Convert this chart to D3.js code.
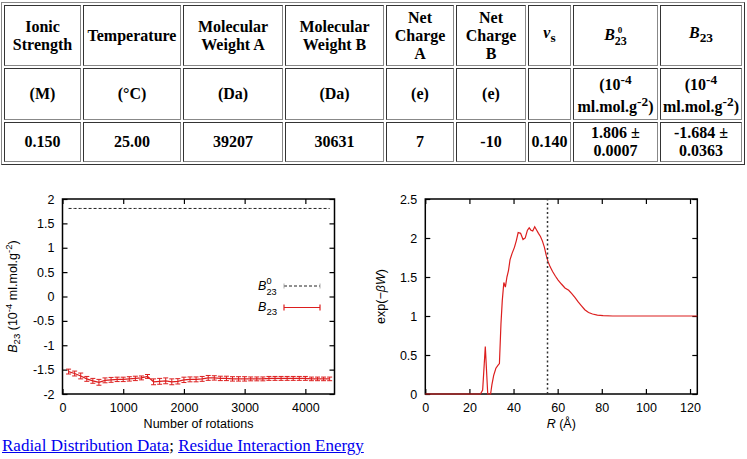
<!DOCTYPE html>
<html><head><meta charset="utf-8">
<script src="https://cdn.jsdelivr.net/npm/d3@7"></script>
<style>
body{margin:0;width:747px;height:459px;position:relative;overflow:hidden;background:#fff;}
#tbl{position:absolute;left:1px;top:2px;}
table.info{border:1px outset #888;border-spacing:2px;table-layout:fixed;font-family:"Liberation Serif","Times New Roman",serif;font-size:16px;font-weight:bold;color:#000;}
table.info td{border:1px inset #888;padding:1px;text-align:center;vertical-align:middle;box-sizing:border-box;}
.stk{display:inline-flex;flex-direction:column;vertical-align:7px;text-align:left;}
.stk .s0{font-size:9px;line-height:10px;padding-left:3px;}
.stk .s23{font-size:12px;line-height:12px;}
svg{position:absolute;left:0;top:0;}
#links{position:absolute;left:2px;top:437px;font-family:"Liberation Serif","Times New Roman",serif;font-size:17px;line-height:18px;white-space:nowrap;}
#links a{color:#0000ee;text-decoration:underline;}
</style></head><body>
<div id="tbl"></div>
<div id="links"></div>
<script>
// ---------- table data ----------
const tableHeaders = ["Ionic<br>Strength","Temperature","Molecular<br>Weight A","Molecular<br>Weight B","Net<br>Charge<br>A","Net<br>Charge<br>B","<i>ν</i><sub>s</sub>","<i>B</i><span class='stk'><span class='s0'>0</span><span class='s23'>23</span></span>","<i>B</i><sub>23</sub>"];
const tableUnits = ["(M)","(°C)","(Da)","(Da)","(e)","(e)","","(10<sup>-4</sup><br>ml.mol.g<sup>-2</sup>)","(10<sup>-4</sup><br>ml.mol.g<sup>-2</sup>)"];
const tableValues = ["0.150","25.00","39207","30631","7","-10","0.140","1.806 ±<br>0.0007","-1.684 ±<br>0.0363"];

// ---------- left chart data ----------
const rotations = [100,200,300,400,500,600,700,800,900,1000,1100,1200,1300,1400,1500,1600,1700,1800,1900,2000,2100,2200,2300,2400,2500,2600,2700,2800,2900,3000,3100,3200,3300,3400,3500,3600,3700,3800,3900,4000,4100,4200,4300,4400];
const b23 = [-1.54,-1.58,-1.63,-1.69,-1.73,-1.76,-1.72,-1.71,-1.70,-1.70,-1.69,-1.68,-1.67,-1.64,-1.75,-1.74,-1.73,-1.75,-1.74,-1.71,-1.70,-1.70,-1.69,-1.67,-1.67,-1.68,-1.68,-1.69,-1.69,-1.69,-1.69,-1.69,-1.69,-1.68,-1.68,-1.68,-1.68,-1.68,-1.68,-1.68,-1.69,-1.69,-1.69,-1.69];
const b23err = [0.05,0.05,0.06,0.05,0.05,0.06,0.05,0.05,0.045,0.045,0.045,0.045,0.04,0.04,0.06,0.06,0.06,0.06,0.055,0.055,0.05,0.05,0.05,0.05,0.045,0.045,0.045,0.045,0.045,0.045,0.04,0.04,0.04,0.04,0.04,0.04,0.04,0.04,0.04,0.04,0.037,0.037,0.037,0.037];
const b0 = 1.806;
const leftXTicks = [0,1000,2000,3000,4000];
const leftYTicks = [-2,-1.5,-1,-0.5,0,0.5,1,1.5,2];

// ---------- right chart data ----------
const radius = [0,10,20,25,26.0,27.2,28.3,29.6,30.2,31.0,32.0,33.0,33.6,34.3,34.9,35.6,36.3,37.0,37.7,38.4,39.3,40.4,41.3,42.1,43.2,44.3,45.3,46.3,47.1,47.9,48.7,49.6,50.5,51.3,52.2,53.1,54.0,54.8,55.6,56.6,57.7,59.0,60.2,61.7,63.3,65.0,66.3,67.8,69.3,70.8,72.3,74.0,75.8,78.0,80.6,85,90,95,100,105,110,115,120,123.3];
const expW = [0,0,0,0,0.05,0.61,0,0,0.12,0.24,0.33,0.37,0.39,0.9,1.2,1.43,1.37,1.5,1.58,1.72,1.8,1.88,1.97,2.07,2.06,1.98,2.0,2.1,2.13,2.1,2.09,2.145,2.1,2.06,2.02,1.96,1.88,1.78,1.7,1.63,1.57,1.51,1.46,1.41,1.36,1.33,1.29,1.24,1.18,1.13,1.08,1.045,1.026,1.012,1.004,1.0,1.0,1.0,1.0,1.0,1.0,1.0,1.0,1.0];
const cutoffR = 55.4;
const rightXTicks = [0,20,40,60,80,100,120];
const rightYTicks = [0,0.5,1,1.5,2,2.5];

// ---------- table ----------
const colW = [77,98,100,99,68,70,43,85,82];
const rowH = [61,52,36];
const table = d3.select("#tbl").append("table").attr("class","info");
[tableHeaders, tableUnits, tableValues].forEach((row, ri) => {
  const tr = table.append("tr");
  tr.selectAll("td").data(row).join("td")
    .style("width", (d,i) => colW[i] + "px")
    .style("height", rowH[ri] + "px")
    .html(d => d);
});

// ---------- links ----------
const links = d3.select("#links");
links.append("a").attr("href","#").text("Radial Distribution Data");
links.append("span").text("; ");
links.append("a").attr("href","#").text("Residue Interaction Energy");

// ---------- charts ----------
const FONT = "'Liberation Sans', Arial, Helvetica, sans-serif";
const RED = "#dc1e1e";
const svg = d3.select("body").append("svg").attr("width",747).attr("height",459);

function drawFrame(g, x, y, xt, yt) {
  const fmt = d => String(d);
  const [y0, y1] = y.range();
  const [x0, x1] = x.range();
  g.append("g").attr("transform",`translate(0,${y0})`)
    .call(d3.axisBottom(x).tickValues(xt).tickSize(-5).tickSizeOuter(0).tickPadding(9).tickFormat(fmt));
  g.append("g").attr("transform",`translate(0,${y1})`)
    .call(d3.axisTop(x).tickValues(xt).tickSize(-5).tickSizeOuter(0).tickFormat(""));
  g.append("g").attr("transform",`translate(${x0},0)`)
    .call(d3.axisLeft(y).tickValues(yt).tickSize(-5).tickSizeOuter(0).tickPadding(8).tickFormat(fmt));
  g.append("g").attr("transform",`translate(${x1},0)`)
    .call(d3.axisRight(y).tickValues(yt).tickSize(-5).tickSizeOuter(0).tickFormat(""));
  g.selectAll(".domain").remove();
  g.selectAll(".tick line").attr("stroke","#000").attr("stroke-width",1.2);
  g.selectAll("g").attr("font-family",FONT).attr("font-size",12.5);
  g.selectAll(".tick text").attr("fill","#000");
  g.append("rect").attr("x",x0).attr("y",y1).attr("width",x1-x0).attr("height",y0-y1)
    .attr("fill","none").attr("stroke","#000").attr("stroke-width",1.5);
}

// Left chart
const xL = d3.scaleLinear().domain([0,4480]).range([62.5,334.5]);
const yL = d3.scaleLinear().domain([-2,2]).range([394,199]);
const gL = svg.append("g");
drawFrame(gL, xL, yL, leftXTicks, leftYTicks);

// B0 dashed line
gL.append("path")
  .attr("d", d3.line().x(d => xL(d)).y(() => yL(b0))(rotations))
  .attr("fill","none").attr("stroke","#222").attr("stroke-width",1).attr("stroke-dasharray","3,2");

// B23 error lines
const pts = rotations.map((r,i) => ({r, v:b23[i], e:b23err[i]}));
gL.append("path")
  .attr("d", d3.line().x(d => xL(d.r)).y(d => yL(d.v))(pts))
  .attr("fill","none").attr("stroke",RED).attr("stroke-width",1.2);
const eb = gL.append("g").attr("stroke",RED).attr("stroke-width",1);
eb.selectAll("line.v").data(pts).join("line").attr("class","v")
  .attr("x1",d=>xL(d.r)).attr("x2",d=>xL(d.r)).attr("y1",d=>yL(d.v-d.e)).attr("y2",d=>yL(d.v+d.e));
eb.selectAll("line.t").data(pts).join("line").attr("class","t")
  .attr("x1",d=>xL(d.r)-2.5).attr("x2",d=>xL(d.r)+2.5).attr("y1",d=>yL(d.v+d.e)).attr("y2",d=>yL(d.v+d.e));
eb.selectAll("line.b").data(pts).join("line").attr("class","b")
  .attr("x1",d=>xL(d.r)-2.5).attr("x2",d=>xL(d.r)+2.5).attr("y1",d=>yL(d.v-d.e)).attr("y2",d=>yL(d.v-d.e));

// Legend
const lg = svg.append("g").attr("font-family",FONT).attr("font-size",12.5);
const l1 = lg.append("text").attr("x",258).attr("y",289.5);
l1.append("tspan").attr("font-style","italic").text("B");
l1.append("tspan").attr("x",266.5).attr("dy",-6).attr("font-size",9.2).text("0");
l1.append("tspan").attr("x",266.5).attr("dy",11).attr("font-size",9.2).text("23");
lg.append("line").attr("x1",284).attr("x2",320).attr("y1",286).attr("y2",286)
  .attr("stroke","#222").attr("stroke-dasharray","3,2");
[284,320].forEach(x => lg.append("line").attr("x1",x).attr("x2",x).attr("y1",283.5).attr("y2",288.5).attr("stroke","#999").attr("stroke-width",0.8));
const l2 = lg.append("text").attr("x",258).attr("y",311);
l2.append("tspan").attr("font-style","italic").text("B");
l2.append("tspan").attr("x",266.5).attr("dy",4).attr("font-size",9.6).text("23");
lg.append("line").attr("x1",284).attr("x2",320).attr("y1",307.5).attr("y2",307.5).attr("stroke",RED).attr("stroke-width",1.2);
[284,320].forEach(x => lg.append("line").attr("x1",x).attr("x2",x).attr("y1",304.5).attr("y2",310.5).attr("stroke",RED).attr("stroke-width",1.2));

// Left axis titles
const ylab = svg.append("text").attr("transform","translate(17,296.5) rotate(-90)")
  .attr("text-anchor","middle").attr("font-family",FONT).attr("font-size",12.5);
ylab.append("tspan").attr("font-style","italic").text("B");
ylab.append("tspan").attr("dy",3).attr("font-size",9.6).text("23");
ylab.append("tspan").attr("dy",-3).text(" (10");
ylab.append("tspan").attr("dy",-5).attr("font-size",9.6).text("-4");
ylab.append("tspan").attr("dy",5).text(" ml.mol.g");
ylab.append("tspan").attr("dy",-5).attr("font-size",9.6).text("-2");
ylab.append("tspan").attr("dy",5).text(")");
svg.append("text").attr("x",(xL.range()[0]+xL.range()[1])/2).attr("y",427.5).attr("text-anchor","middle")
  .attr("font-family",FONT).attr("font-size",12.5).text("Number of rotations");

// Right chart
const xR = d3.scaleLinear().domain([0,123.3]).range([425.3,697.3]);
const yR = d3.scaleLinear().domain([0,2.5]).range([394,199]);
const gR = svg.append("g");
drawFrame(gR, xR, yR, rightXTicks, rightYTicks);
gR.append("path")
  .attr("d", d3.line().x((d,i) => xR(radius[i])).y(d => yR(d))(expW))
  .attr("fill","none").attr("stroke",RED).attr("stroke-width",1.2);
gR.append("line").attr("x1",xR(cutoffR)).attr("x2",xR(cutoffR)).attr("y1",yR(0)).attr("y2",yR(2.5))
  .attr("stroke","#333").attr("stroke-width",1.5).attr("stroke-dasharray","2,2.5");

const ylab2 = svg.append("text").attr("transform","translate(385,296.5) rotate(-90)")
  .attr("text-anchor","middle").attr("font-family",FONT).attr("font-size",12.5);
ylab2.append("tspan").text("exp(−");
ylab2.append("tspan").attr("font-style","italic").text("βW");
ylab2.append("tspan").text(")");
const xlab2 = svg.append("text").attr("x",(xR.range()[0]+xR.range()[1])/2).attr("y",427.5).attr("text-anchor","middle")
  .attr("font-family",FONT).attr("font-size",12.5);
xlab2.append("tspan").attr("font-style","italic").text("R");
xlab2.append("tspan").text(" (Å)");
</script>
</body></html>
